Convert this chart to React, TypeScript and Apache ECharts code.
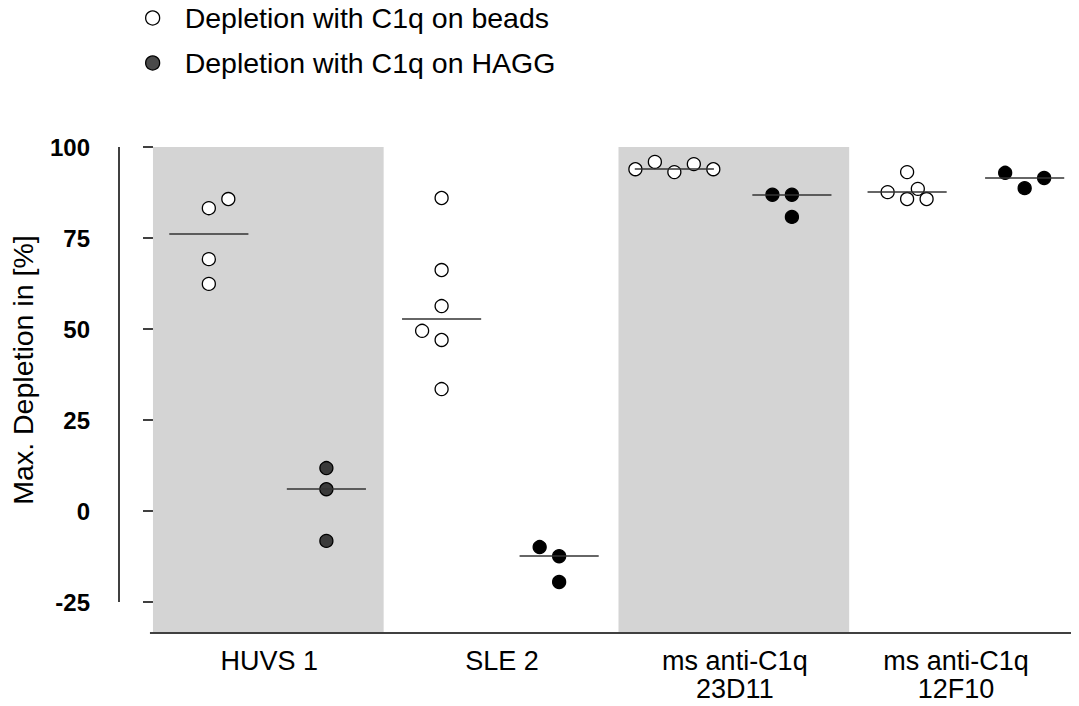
import React, { useEffect, useRef } from "react";
import * as echarts from "echarts";

// ---- data ----
const groups = ["HUVS 1", "SLE 2", "ms anti-C1q\n23D11", "ms anti-C1q\n12F10"];
const groupLabelPos = [0.5, 1.5, 2.5, 3.45];

const beadsName = "Depletion with C1q on beads";
const haggName = "Depletion with C1q on HAGG";

// values per group
const beadsHUVS = [83.2, 85.7, 69.2, 62.4];
const beadsSLE = [86.0, 66.2, 56.3, 49.5, 47.0, 33.5];
const beads23D11 = [93.9, 95.9, 93.1, 95.3, 93.9];
const beads12F10 = [93.1, 87.6, 88.5, 85.7, 85.7];

const haggHUVS = [11.8, 6.0, -8.2];
const haggSLE = [-9.9, -12.4, -19.5];
const hagg23D11 = [86.9, 86.9, 80.8];
const hagg12F10 = [92.9, 88.7, 91.5];

// horizontal swarm slots (jitter index) for each point
const beadsSlots = [
  [0, 1, 0, 0],
  [0, 0, 0, -1, 0, 0],
  [-2, -1, 0, 1, 2],
  [0, -1, 0.55, 0, 1],
];
const haggSlots = [
  [0, 0, 0],
  [-1, 0, 0],
  [-1, 0, 0],
  [-1, 0, 1],
];

const beadsValues = [beadsHUVS, beadsSLE, beads23D11, beads12F10];
const haggValues = [haggHUVS, haggSLE, hagg23D11, hagg12F10];

const yTicks = [-25, 0, 25, 50, 75, 100];

// ---- layout constants ----
const X_MIN = -0.146;
const X_MAX = 3.9613;
const Y_MIN = -33.5;
const Y_MAX = 100;
const BEADS_OFF = 0.24;
const HAGG_OFF = 0.745;
const SLOT = 0.0837;
const HALF = 0.17;

function median(a: number[]) {
  const s = [...a].sort((p, q) => p - q);
  const n = s.length;
  return n % 2 ? s[(n - 1) / 2] : (s[n / 2 - 1] + s[n / 2]) / 2;
}

export default function App() {
  const ref = useRef<HTMLDivElement>(null);
  useEffect(() => {
    if (!ref.current) return;
    const chart = echarts.init(ref.current, undefined, { renderer: "svg" });

    const beadsData: any[] = [];
    const haggData: any[] = [];
    const medianLines: any[] = [];
    groups.forEach((_, g) => {
      beadsValues[g].forEach((v, i) => {
        beadsData.push([g + BEADS_OFF + beadsSlots[g][i] * SLOT, v]);
      });
      haggValues[g].forEach((v, i) => {
        haggData.push({
          value: [g + HAGG_OFF + haggSlots[g][i] * SLOT, v],
          itemStyle: { color: g === 0 ? "#3a3a3a" : "#000" },
        });
      });
      const mb = median(beadsValues[g]);
      const mh = median(haggValues[g]);
      medianLines.push([
        { coord: [g + BEADS_OFF - HALF, mb] },
        { coord: [g + BEADS_OFF + HALF, mb] },
      ]);
      medianLines.push([
        { coord: [g + HAGG_OFF - HALF, mh] },
        { coord: [g + HAGG_OFF + HALF, mh] },
      ]);
    });

    const font = "'Liberation Sans', Arial, Helvetica, sans-serif";

    chart.setOption({
      animation: false,
      backgroundColor: "#fff",
      textStyle: { fontFamily: font },
      legend: {
        orient: "vertical",
        left: 140,
        top: -2,
        itemWidth: 14,
        itemHeight: 14,
        itemGap: 15,
        data: [
          { name: beadsName, itemStyle: { color: "#fff", borderColor: "#000", borderWidth: 1.3 } },
          { name: haggName, itemStyle: { color: "#4a4a4a", borderColor: "#000", borderWidth: 1.3 } },
        ],
        textStyle: {
          fontSize: 28.5,
          color: "#000",
          fontFamily: font,
          lineHeight: 30,
          padding: [0, 0, 0, 20],
        },
      },
      grid: { left: 118, right: 4, top: 147, bottom: 73 },
      xAxis: {
        type: "value",
        min: X_MIN,
        max: X_MAX,
        axisLine: { show: false },
        axisTick: { show: false },
        splitLine: { show: false },
        axisLabel: {
          customValues: groupLabelPos,
          formatter: (v: number) => {
            const i = groupLabelPos.findIndex((p) => Math.abs(p - v) < 1e-6);
            return i >= 0 ? groups[i] : "";
          },
          fontSize: 27,
          lineHeight: 28,
          color: "#000",
          margin: 14,
          fontFamily: font,
        },
      },
      yAxis: {
        type: "value",
        min: Y_MIN,
        max: Y_MAX,
        name: "Max. Depletion in [%]",
        nameLocation: "middle",
        nameGap: 82,
        nameRotate: 90,
        nameTextStyle: { fontSize: 28.5, color: "#000", fontFamily: font, padding: [0, 0, 0, 40] },
        axisLine: { show: false },
        splitLine: { show: false },
        axisTick: {
          show: true,
          customValues: yTicks,
          length: 10,
          lineStyle: { color: "#000", width: 1.5 },
        },
        axisLabel: {
          customValues: yTicks,
          fontSize: 24,
          fontWeight: "bold",
          color: "#000",
          margin: 29,
          fontFamily: font,
        },
      },
      series: [
        {
          name: "frame",
          type: "scatter",
          data: [],
          z: 0,
          silent: true,
          markArea: {
            silent: true,
            itemStyle: { color: "#d4d4d4" },
            data: [
              [{ coord: [0, Y_MIN + 0.3] }, { coord: [0.991, Y_MAX] }],
              [{ coord: [2.0, Y_MIN + 0.3] }, { coord: [2.991, Y_MAX] }],
            ],
          },
          markLine: {
            silent: true,
            symbol: ["none", "none"],
            label: { show: false },
            lineStyle: { color: "#000", width: 1.5, type: "solid" },
            data: [
              [{ coord: [X_MIN, -25] }, { coord: [X_MIN, Y_MAX] }],
              [{ coord: [-0.013, Y_MIN] }, { coord: [X_MAX, Y_MIN] }],
            ],
          },
        },
        {
          name: "medians",
          type: "scatter",
          data: [],
          z: 1,
          silent: true,
          markLine: {
            silent: true,
            symbol: ["none", "none"],
            label: { show: false },
            lineStyle: { color: "#333", width: 1.5, type: "solid" },
            data: medianLines,
          },
        },
        {
          name: beadsName,
          type: "scatter",
          z: 3,
          symbol: "circle",
          symbolSize: 13,
          itemStyle: { color: "#fff", borderColor: "#000", borderWidth: 1.3, opacity: 1 },
          data: beadsData,
        },
        {
          name: haggName,
          type: "scatter",
          z: 3,
          symbol: "circle",
          symbolSize: 13,
          itemStyle: { color: "#4a4a4a", borderColor: "#000", borderWidth: 1.3, opacity: 1 },
          data: haggData,
        },
      ],
    });
    return () => chart.dispose();
  }, []);
  return <div ref={ref} style={{ width: 1079, height: 706, margin: -8 }} />;
}
